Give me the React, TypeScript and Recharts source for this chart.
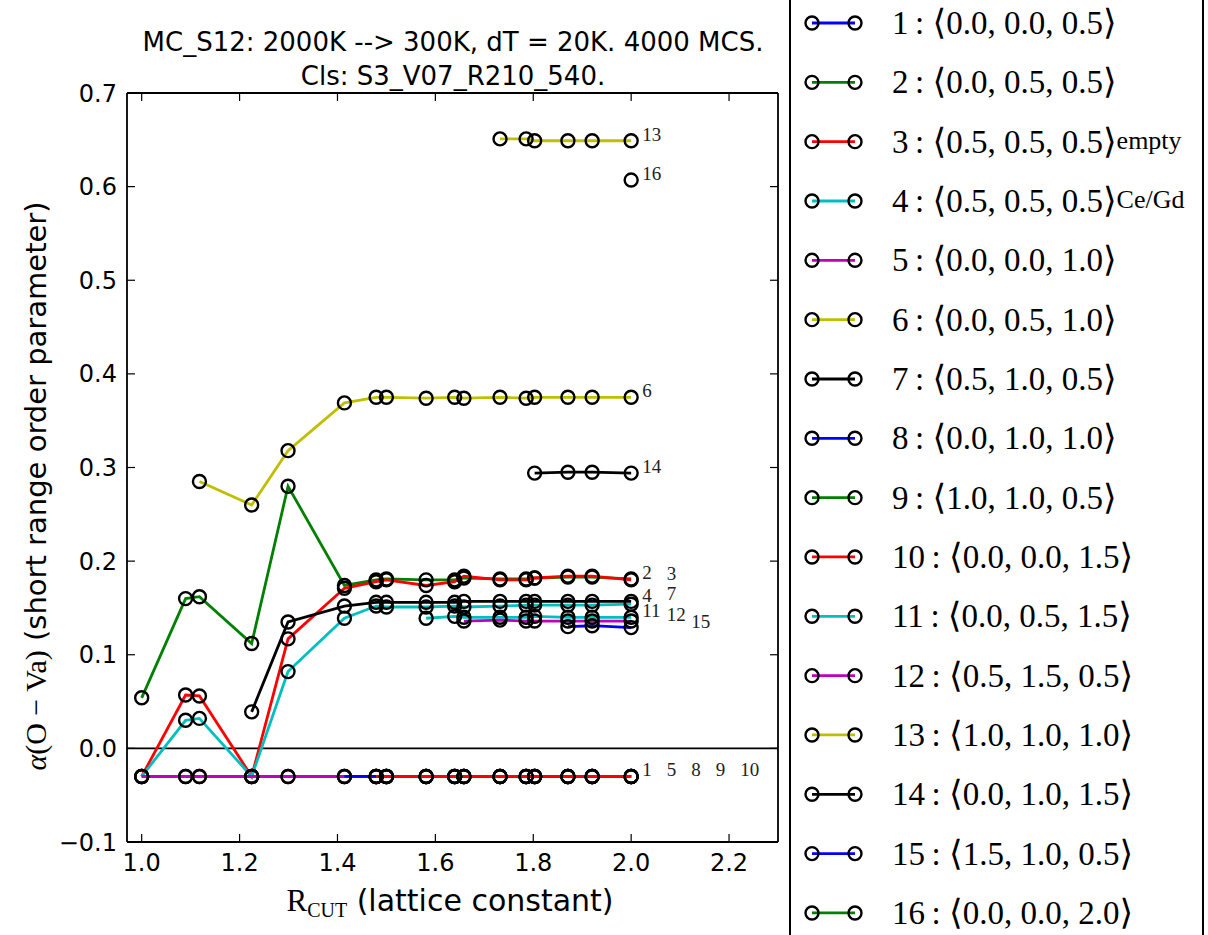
import { LineChart, Line, XAxis, YAxis, ReferenceLine, Legend } from "recharts";

// cutoff radii (lattice constants)
const rCut = [1.0, 1.0897, 1.118, 1.2247, 1.299, 1.4142, 1.479, 1.5, 1.5811, 1.6394, 1.6583, 1.7321, 1.7854, 1.8028, 1.8708, 1.9203, 2.0];

// alpha(O-Va) per cluster, null before the shell enters the cutoff
const sro1 = [-0.03, -0.03, -0.03, -0.03, -0.03, -0.03, -0.03, -0.03, -0.03, -0.03, -0.03, -0.03, -0.03, -0.03, -0.03, -0.03, -0.03];
const sro2 = [0.054, 0.16, 0.162, 0.112, 0.28, 0.174, 0.18, 0.181, 0.18, 0.18, 0.182, 0.181, 0.181, 0.182, 0.183, 0.183, 0.181];
const sro3 = [-0.03, 0.057, 0.056, -0.03, 0.117, 0.171, 0.178, 0.18, 0.174, 0.178, 0.184, 0.18, 0.18, 0.182, 0.184, 0.184, 0.18];
const sro4 = [-0.03, 0.03, 0.032, -0.03, 0.082, 0.139, 0.152, 0.151, 0.151, 0.152, 0.151, 0.152, 0.153, 0.153, 0.153, 0.153, 0.154];
const sro5 = [-0.03, -0.03, -0.03, -0.03, -0.03, -0.03, -0.03, -0.03, -0.03, -0.03, -0.03, -0.03, -0.03, -0.03, -0.03, -0.03, -0.03];
const sro6 = [null, null, 0.285, 0.26, 0.318, 0.369, 0.375, 0.375, 0.374, 0.375, 0.374, 0.375, 0.374, 0.375, 0.375, 0.375, 0.375];
const sro7 = [null, null, null, 0.039, 0.135, 0.152, 0.156, 0.156, 0.156, 0.156, 0.157, 0.157, 0.157, 0.157, 0.157, 0.157, 0.157];
const sro8 = [null, null, null, null, null, -0.03, -0.03, -0.03, -0.03, -0.03, -0.03, -0.03, -0.03, -0.03, -0.03, -0.03, -0.03];
const sro9 = [null, null, null, null, null, null, -0.03, -0.03, -0.03, -0.03, -0.03, -0.03, -0.03, -0.03, -0.03, -0.03, -0.03];
const sro10 = [null, null, null, null, null, null, -0.03, -0.03, -0.03, -0.03, -0.03, -0.03, -0.03, -0.03, -0.03, -0.03, -0.03];
const sro11 = [null, null, null, null, null, null, null, null, 0.139, 0.141, 0.14, 0.14, 0.14, 0.141, 0.14, 0.14, 0.14];
const sro12 = [null, null, null, null, null, null, null, null, null, null, 0.136, 0.137, 0.136, 0.136, 0.136, 0.136, 0.136];
const sro13 = [null, null, null, null, null, null, null, null, null, null, null, 0.651, 0.651, 0.649, 0.649, 0.649, 0.649];
const sro14 = [null, null, null, null, null, null, null, null, null, null, null, null, null, 0.294, 0.295, 0.295, 0.294];
const sro15 = [null, null, null, null, null, null, null, null, null, null, null, null, null, null, 0.13, 0.131, 0.129];
const sro16 = [null, null, null, null, null, null, null, null, null, null, null, null, null, null, null, null, 0.607];

const shells = [
  "0.0, 0.0, 0.5", "0.0, 0.5, 0.5", "0.5, 0.5, 0.5", "0.5, 0.5, 0.5",
  "0.0, 0.0, 1.0", "0.0, 0.5, 1.0", "0.5, 1.0, 0.5", "0.0, 1.0, 1.0",
  "1.0, 1.0, 0.5", "0.0, 0.0, 1.5", "0.0, 0.5, 1.5", "0.5, 1.5, 0.5",
  "1.0, 1.0, 1.0", "0.0, 1.0, 1.5", "1.5, 1.0, 0.5", "0.0, 0.0, 2.0",
];
const notes = ["", "", "empty", "Ce/Gd", "", "", "", "", "", "", "", "", "", "", "", ""];
const colors = [
  "#0000ff", "#008000", "#ff0000", "#00bfbf", "#bf00bf", "#bfbf00", "#000000", "#0000ff",
  "#008000", "#ff0000", "#00bfbf", "#bf00bf", "#bfbf00", "#000000", "#0000ff", "#008000",
];
// horizontal slot / small lift of the end label when several series end close together
const endSlot = [0, 0, 1, 0, 1, 0, 1, 2, 3, 4, 0, 1, 0, 0, 2, 0];
const endLift = [0, 0, 0, 2, 0, 0, 1, 0, 0, 0, 0, 0, 0, 0, 0, 0];

const xTicks = [1.0, 1.2, 1.4, 1.6, 1.8, 2.0, 2.2];
const yTicks = [-0.1, 0.0, 0.1, 0.2, 0.3, 0.4, 0.5, 0.6, 0.7];

const allSeries = [sro1, sro2, sro3, sro4, sro5, sro6, sro7, sro8, sro9, sro10, sro11, sro12, sro13, sro14, sro15, sro16];

const table = rCut.map((x, i) => {
  const row: Record<string, number | null> = { x };
  allSeries.forEach((s, k) => {
    row[`s${k + 1}`] = s[i];
  });
  return row;
});

const last = rCut.length - 1;
const tickFont = { fontFamily: "DejaVu Sans", fontSize: 24, fill: "#000" };
const fmtY = (v: number) => (v < 0 ? `\u2212${Math.abs(v).toFixed(1)}` : v.toFixed(1));
const noText = () => "";

const makeDot = (k: number) => (p: any) => {
  if (p.cy == null || p.cx == null || p.value == null) return <g key={`d${k}-${p.index}`} />;
  return (
    <g key={`d${k}-${p.index}`}>
      <circle cx={p.cx} cy={p.cy} r={6.5} fill="none" stroke="#000" strokeWidth={2.4} />
      {p.index === last && (
        <text
          x={p.cx + 11 + 24.5 * endSlot[k]}
          y={p.cy - endLift[k]}
          fontFamily="Liberation Serif"
          fontSize={19}
          fill="#222"
        >
          {k + 1}
        </text>
      )}
    </g>
  );
};

const Title = () => (
  <g fontFamily="DejaVu Sans" fontSize={26} textAnchor="middle" fill="#000">
    <text x={453} y={51}>{"MC_S12: 2000K --> 300K, dT = 20K. 4000 MCS."}</text>
    <text x={453} y={85}>{"Cls: S3_V07_R210_540."}</text>
  </g>
);

const XLabel = () => (
  <text x={450} y={911} textAnchor="middle" fill="#000">
    <tspan fontFamily="Liberation Serif" fontSize={31}>R</tspan>
    <tspan fontFamily="Liberation Serif" fontSize={20} dy={6}>CUT</tspan>
    <tspan fontFamily="DejaVu Sans" fontSize={30} dy={-6}>{" (lattice constant)"}</tspan>
  </text>
);

const YLabel = () => (
  <text x={46} y={486} transform="rotate(-90 46 486)" textAnchor="middle" fill="#000">
    <tspan fontFamily="Liberation Serif" fontStyle="italic" fontSize={30}>α</tspan>
    <tspan fontFamily="Liberation Serif" fontSize={30}>{"(O \u2212 Va)"}</tspan>
    <tspan fontFamily="DejaVu Sans" fontSize={29}>{" (short range order parameter)"}</tspan>
  </text>
);

const LegendBox = (props: any) => {
  const items = [...(props.payload || [])]
    .filter((it) => !isNaN(Number(it.value)))
    .sort((a, b) => Number(a.value) - Number(b.value));
  return (
    <svg width={418} height={970}>
      <rect x={2} y={1} width={413} height={968} fill="#fff" stroke="#000" strokeWidth={2} />
      {items.map((it, i) => {
        const cy = 35 + 59.33 * i;
        const k = Number(it.value) - 1;
        return (
          <g key={it.value}>
            <line x1={24} x2={67} y1={cy} y2={cy} stroke={it.color} strokeWidth={2.8} />
            <circle cx={24} cy={cy} r={6.5} fill="none" stroke="#000" strokeWidth={2.4} />
            <circle cx={67} cy={cy} r={6.5} fill="none" stroke="#000" strokeWidth={2.4} />
            <text x={104} y={cy + 11} fontFamily="Liberation Serif" fontSize={33} fill="#000">
              {`${it.value}\u2009:\u0020`}
              <tspan fontFamily="DejaVu Serif" fontSize={35}>⟨</tspan>
              {shells[k]}
              <tspan fontFamily="DejaVu Serif" fontSize={35}>⟩</tspan>
              {notes[k] && <tspan fontSize={26} dy={-4}>{notes[k]}</tspan>}
            </text>
          </g>
        );
      })}
    </svg>
  );
};

export default function App() {
  return (
    <div style={{ position: "absolute", left: 0, top: 0, width: 1208, height: 935, overflow: "hidden", background: "#fff" }}>
      <LineChart width={1208} height={935} data={table} margin={{ top: 92, right: 429, bottom: 33, left: 27 }}>
        <XAxis
          type="number"
          dataKey="x"
          domain={[0.97, 2.3]}
          ticks={xTicks}
          interval={0}
          tickFormatter={(v: number) => v.toFixed(1)}
          height={60}
          tickSize={-8}
          tickMargin={20}
          axisLine={{ stroke: "#000", strokeWidth: 1.8 }}
          tickLine={{ stroke: "#000", strokeWidth: 1.2 }}
          tick={tickFont}
          label={{ content: XLabel }}
        />
        <XAxis
          xAxisId="top"
          orientation="top"
          type="number"
          dataKey="x"
          domain={[0.97, 2.3]}
          allowDataOverflow
          ticks={xTicks}
          interval={0}
          height={1}
          tickSize={-8}
          tickFormatter={noText}
          axisLine={{ stroke: "#000", strokeWidth: 1.8 }}
          tickLine={{ stroke: "#000", strokeWidth: 1.2 }}
          label={{ content: Title }}
        />
        <YAxis
          type="number"
          domain={[-0.1, 0.7]}
          ticks={yTicks}
          interval={0}
          tickFormatter={fmtY}
          width={100}
          tickSize={-8}
          tickMargin={18}
          axisLine={{ stroke: "#000", strokeWidth: 1.8 }}
          tickLine={{ stroke: "#000", strokeWidth: 1.2 }}
          tick={tickFont}
          label={{ content: YLabel }}
        />
        <YAxis
          yAxisId="right"
          orientation="right"
          type="number"
          domain={[-0.1, 0.7]}
          allowDataOverflow
          ticks={yTicks}
          interval={0}
          width={1}
          tickSize={-8}
          tickFormatter={noText}
          axisLine={{ stroke: "#000", strokeWidth: 1.8 }}
          tickLine={{ stroke: "#000", strokeWidth: 1.2 }}
        />
        <ReferenceLine y={0} stroke="#000" strokeWidth={1.6} />
        {/* invisible series so the mirrored frame axes get a scale */}
        <Line
          xAxisId="top"
          yAxisId="right"
          dataKey="s2"
          stroke="none"
          dot={false}
          activeDot={false}
          legendType="none"
          isAnimationActive={false}
        />
        {allSeries.map((_, k) => (
          <Line
            key={k}
            type="linear"
            dataKey={`s${k + 1}`}
            name={`${k + 1}`}
            stroke={colors[k]}
            strokeWidth={2.8}
            dot={makeDot(k)}
            activeDot={false}
            isAnimationActive={false}
          />
        ))}
        <Legend
          layout="vertical"
          align="center"
          verticalAlign="middle"
          wrapperStyle={{ position: "absolute", left: 788, top: -12, width: 418, height: 970 }}
          content={LegendBox}
        />
      </LineChart>
    </div>
  );
}
